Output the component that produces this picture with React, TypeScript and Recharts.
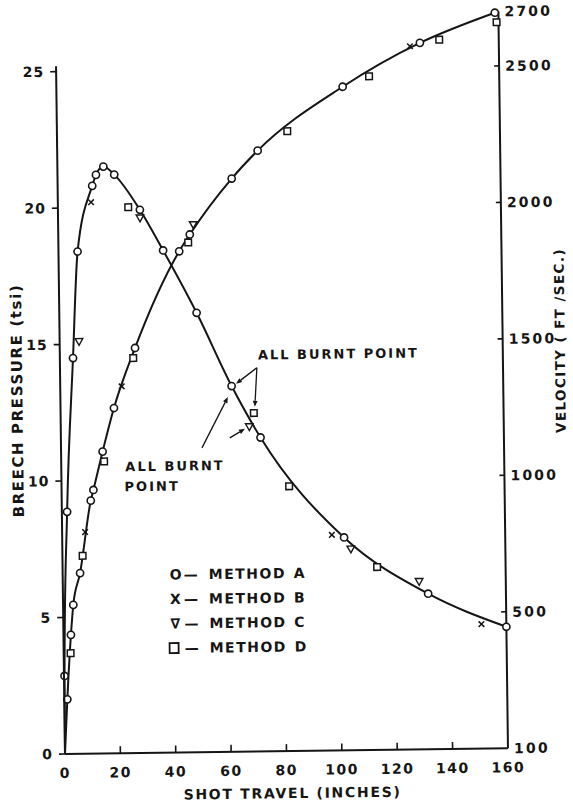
import React from 'react';
import { ComposedChart, Line, Scatter, XAxis, YAxis, ReferenceLine } from 'recharts';

// the scan is tilted a little; the whole sheet is turned back by this much
const TILT = -0.745;

const INK = '#151515';
const FONT = '"DejaVu Sans", sans-serif';

const X_TICKS = [0, 20, 40, 60, 80, 100, 120, 140, 160];
const P_TICKS = [0, 5, 10, 15, 20, 25];
const V_TICKS = [0, 500, 1000, 1500, 2000, 2500, 2700];
const V_TICK_LABELS = ['100', '500', '1000', '1500', '2000', '2500', '2700'];

// breech pressure (tsi) vs shot travel (inches)
const pressureA = [
  { x: 0.2, y: 2.86 }, { x: 1.9, y: 8.87 }, { x: 4.75, y: 14.5 }, { x: 6.9, y: 18.4 },
  { x: 12.5, y: 20.8 }, { x: 13.9, y: 21.2 }, { x: 16.6, y: 21.5 }, { x: 20.5, y: 21.2 },
  { x: 29.6, y: 19.9 }, { x: 37.8, y: 18.4 }, { x: 49.6, y: 16.1 }, { x: 61.9, y: 13.4 },
  { x: 72.1, y: 11.5 }, { x: 101.8, y: 7.8 }, { x: 131.9, y: 5.7 }, { x: 160, y: 4.45 },
];
const pressureB = [{ x: 12.0, y: 20.2 }, { x: 97.4, y: 7.9 }, { x: 151, y: 4.56 }];
const pressureC = [
  { x: 7.0, y: 15.1 }, { x: 29.6, y: 19.6 }, { x: 68.1, y: 11.9 },
  { x: 104.2, y: 7.37 }, { x: 128.7, y: 6.15 },
];
const pressureD = [{ x: 25.4, y: 20.0 }, { x: 69.8, y: 12.4 }, { x: 82.2, y: 9.7 }, { x: 113.6, y: 6.7 }];

// velocity (ft/sec) vs shot travel (inches)
const velocityA = [
  { x: 1.1, y: 200 }, { x: 2.7, y: 436 }, { x: 3.7, y: 546 }, { x: 6.3, y: 662 },
  { x: 10.5, y: 927 }, { x: 11.5, y: 966 }, { x: 15.0, y: 1106 }, { x: 19.3, y: 1265 },
  { x: 27.2, y: 1484 }, { x: 43.6, y: 1836 }, { x: 47.5, y: 1897 }, { x: 62.9, y: 2100 },
  { x: 72.4, y: 2201 }, { x: 103.4, y: 2431 }, { x: 131.5, y: 2588 }, { x: 158.7, y: 2695 },
];
const velocityB = [{ x: 8.3, y: 812 }, { x: 22.2, y: 1344 }, { x: 127.9, y: 2576 }];
const velocityC = [{ x: 48.8, y: 1933 }];
const velocityD = [
  { x: 2.5, y: 369 }, { x: 7.3, y: 725 }, { x: 15.5, y: 1070 }, { x: 26.5, y: 1447 },
  { x: 46.9, y: 1868 }, { x: 83.2, y: 2271 }, { x: 113.0, y: 2468 }, { x: 138.5, y: 2599 },
  { x: 159.3, y: 2660 },
];

const START = { x: 0, y: 0 };
const pressureCurve = [START, ...pressureA];
const velocityCurve = [START, ...velocityA];

// "all burnt point" arrows, in shot travel / pressure units
const arrows = [
  { from: { x: 71.1, y: 14.06 }, to: { x: 63.5, y: 13.48 } },
  { from: { x: 71.1, y: 14.06 }, to: { x: 70.2, y: 12.63 } },
  { from: { x: 50.9, y: 11.15 }, to: { x: 60.5, y: 13.0 } },
  { from: { x: 61.0, y: 11.5 }, to: { x: 66.5, y: 11.83 } },
];

const legendRows = [
  { sym: 'O', name: 'A' },
  { sym: 'X', name: 'B' },
  { sym: '∇', name: 'C' },
  { sym: 'square', name: 'D' },
];

// plot frame in px (before the tilt): x 65..508, y 17..754, 27 tsi tall
const PLOT = { left: 65, right: 508, top: 17, bottom: 754 };
const PRESSURE_MAX = 27;
const LEFT_AXIS_TOP = 25.2;

const CircleMark = (p: any) => (
  <circle cx={p.cx} cy={p.cy} r={3.6} fill="#fff" stroke={INK} strokeWidth={1.6} />
);
const SquareMark = (p: any) => (
  <rect x={p.cx - 3.3} y={p.cy - 3.3} width={6.6} height={6.6} fill="#fff" stroke={INK} strokeWidth={1.5} />
);
const TriangleMark = (p: any) => (
  <polygon
    points={`${p.cx - 3.8},${p.cy - 3} ${p.cx + 3.8},${p.cy - 3} ${p.cx},${p.cy + 3.8}`}
    fill="#fff"
    stroke={INK}
    strokeWidth={1.4}
  />
);
const CrossMark = (p: any) => (
  <g stroke={INK} strokeWidth={1.5}>
    <line x1={p.cx - 2.8} y1={p.cy - 2.8} x2={p.cx + 2.8} y2={p.cy + 2.8} />
    <line x1={p.cx - 2.8} y1={p.cy + 2.8} x2={p.cx + 2.8} y2={p.cy - 2.8} />
  </g>
);

const ArrowShape = (p: any) => {
  const { x1, y1, x2, y2 } = p;
  const a = Math.atan2(y2 - y1, x2 - x1);
  const len = 6;
  const w = 2.4;
  const bx = x2 - len * Math.cos(a);
  const by = y2 - len * Math.sin(a);
  const nx = -Math.sin(a) * w;
  const ny = Math.cos(a) * w;
  return (
    <g>
      <line x1={x1} y1={y1} x2={bx} y2={by} stroke={INK} strokeWidth={1.3} />
      <polygon points={`${x2},${y2} ${bx + nx},${by + ny} ${bx - nx},${by - ny}`} fill={INK} />
    </g>
  );
};

const tickText = { fontFamily: FONT, fontSize: 14, fontWeight: 'bold' as const, fill: INK };

const PressureTick = (p: any) => (
  <text x={p.x} y={p.y} dy={5} textAnchor="end" letterSpacing={1} {...tickText}>
    {p.payload.value}
  </text>
);

// right axis: label plus a short tick pointing into the plot
const V_MARGIN = 6;
const VelocityTick = (p: any) => {
  const v = p.payload.value;
  const axisX = p.x - V_MARGIN;
  const inner = v !== 0 && v !== 2700;
  return (
    <g>
      {inner && <line x1={axisX - 5} y1={p.y} x2={axisX} y2={p.y} stroke={INK} strokeWidth={1.6} />}
      <text x={p.x} y={p.y} dy={5} textAnchor="start" letterSpacing={2.2} {...tickText}>
        {V_TICK_LABELS[V_TICKS.indexOf(v)]}
      </text>
    </g>
  );
};

// bottom axis: label plus a short tick pointing up into the plot
const TravelTick = (p: any) => {
  const v = p.payload.value;
  const inner = v !== 0 && v !== 160;
  return (
    <g>
      {inner && <line x1={p.x} y1={p.y} x2={p.x} y2={p.y - 7} stroke={INK} strokeWidth={1.6} />}
      <text x={p.x} y={p.y} dy={24} textAnchor="middle" letterSpacing={1.5} {...tickText}>
        {v}
      </text>
    </g>
  );
};

const labelStyle = { fontFamily: FONT, fontWeight: 'bold' as const, fill: INK };

export default function App() {
  const leftAxisTopY =
    PLOT.bottom - ((PLOT.bottom - PLOT.top) * LEFT_AXIS_TOP) / PRESSURE_MAX;

  return (
    <div style={{ position: 'absolute', left: 0, top: 0, width: 573, height: 808, background: '#fff', overflow: 'hidden' }}>
      <style>{'html,body{margin:0;padding:0;overflow:hidden;background:#fff}'}</style>
      <div
        style={{
          position: 'absolute',
          left: 0,
          top: 0,
          width: 573,
          height: 808,
          transform: `rotate(${TILT}deg)`,
          transformOrigin: `${PLOT.left}px ${PLOT.bottom}px`,
        }}
      >
        <ComposedChart
          width={573}
          height={808}
          margin={{ top: PLOT.top, right: 0, bottom: 0, left: 0 }}
        >
          <XAxis
            dataKey="x"
            type="number"
            domain={[0, 160]}
            ticks={X_TICKS}
            interval={0}
            height={808 - PLOT.bottom}
            tickSize={0}
            tickMargin={0}
            tickLine={false}
            axisLine={{ stroke: INK, strokeWidth: 2 }}
            tick={TravelTick}
          />
          <YAxis
            yAxisId="left"
            type="number"
            domain={[0, PRESSURE_MAX]}
            ticks={P_TICKS}
            interval={0}
            width={PLOT.left}
            tickSize={6}
            tickMargin={6}
            axisLine={false}
            tickLine={{ stroke: INK, strokeWidth: 1.6 }}
            tick={PressureTick}
          />
          <YAxis
            yAxisId="right"
            orientation="right"
            type="number"
            domain={[0, 2700]}
            ticks={V_TICKS}
            interval={0}
            width={573 - PLOT.right}
            tickSize={0}
            tickMargin={V_MARGIN}
            tickLine={false}
            axisLine={{ stroke: INK, strokeWidth: 2 }}
            tick={VelocityTick}
          />

          <Line
            yAxisId="left"
            data={pressureCurve}
            dataKey="y"
            type="monotone"
            stroke={INK}
            strokeWidth={2}
            dot={false}
            activeDot={false}
            isAnimationActive={false}
          />
          <Line
            yAxisId="right"
            data={velocityCurve}
            dataKey="y"
            type="monotone"
            stroke={INK}
            strokeWidth={2}
            dot={false}
            activeDot={false}
            isAnimationActive={false}
          />

          {arrows.map((a, i) => (
            <ReferenceLine
              key={`arrow-${i}`}
              yAxisId="left"
              segment={[a.from, a.to]}
              stroke={INK}
              shape={ArrowShape}
            />
          ))}

          <Scatter yAxisId="left" data={pressureA} dataKey="y" shape={CircleMark} isAnimationActive={false} />
          <Scatter yAxisId="left" data={pressureB} dataKey="y" shape={CrossMark} isAnimationActive={false} />
          <Scatter yAxisId="left" data={pressureC} dataKey="y" shape={TriangleMark} isAnimationActive={false} />
          <Scatter yAxisId="left" data={pressureD} dataKey="y" shape={SquareMark} isAnimationActive={false} />
          <Scatter yAxisId="right" data={velocityA} dataKey="y" shape={CircleMark} isAnimationActive={false} />
          <Scatter yAxisId="right" data={velocityB} dataKey="y" shape={CrossMark} isAnimationActive={false} />
          <Scatter yAxisId="right" data={velocityC} dataKey="y" shape={TriangleMark} isAnimationActive={false} />
          <Scatter yAxisId="right" data={velocityD} dataKey="y" shape={SquareMark} isAnimationActive={false} />
        </ComposedChart>

        <svg
          width={573}
          height={808}
          style={{ position: 'absolute', left: 0, top: 0, overflow: 'visible', pointerEvents: 'none' }}
        >
          <text
            transform="translate(22,400) rotate(-90)"
            textAnchor="middle"
            dy={5}
            fontSize={15}
            letterSpacing={1.6}
            {...labelStyle}
          >
            BREECH PRESSURE (tsi)
          </text>
          <text
            transform="translate(565,347) rotate(-90)"
            textAnchor="middle"
            dy={5}
            fontSize={13.5}
            letterSpacing={1.4}
            {...labelStyle}
          >
            VELOCITY ( FT /SEC.)
          </text>
          <text x={292} y={801} textAnchor="middle" fontSize={14} letterSpacing={1.7} {...labelStyle}>
            SHOT TRAVEL (INCHES)
          </text>

          <text x={263} y={362} fontSize={13} letterSpacing={2} {...labelStyle}>
            ALL BURNT POINT
          </text>
          <text x={129} y={472} fontSize={13} letterSpacing={2} {...labelStyle}>
            ALL BURNT
          </text>
          <text x={128} y={492} fontSize={13} letterSpacing={2} {...labelStyle}>
            POINT
          </text>

          {legendRows.map((r, i) => {
            const y = 581 + i * 24.5;
            return (
              <g key={r.name} fontSize={14} {...labelStyle}>
                {r.sym === 'square' ? (
                  <rect x={171} y={y - 10} width={9} height={10} fill="none" stroke={INK} strokeWidth={1.8} />
                ) : (
                  <text x={172} y={y}>{r.sym}</text>
                )}
                <text x={186} y={y}>—</text>
                <text x={211} y={y} letterSpacing={1.5}>METHOD</text>
                <text x={296} y={y}>{r.name}</text>
              </g>
            );
          })}

          {/* nothing of the frame shows above 25 tsi on the left side */}
          <rect x={PLOT.left - 6} y={0} width={13} height={leftAxisTopY - 1} fill="#fff" />

          {/* left axis, drawn only up to 25 tsi */}
          <line
            x1={PLOT.left}
            y1={PLOT.bottom}
            x2={PLOT.left}
            y2={leftAxisTopY}
            stroke={INK}
            strokeWidth={2}
          />
        </svg>
      </div>
    </div>
  );
}
